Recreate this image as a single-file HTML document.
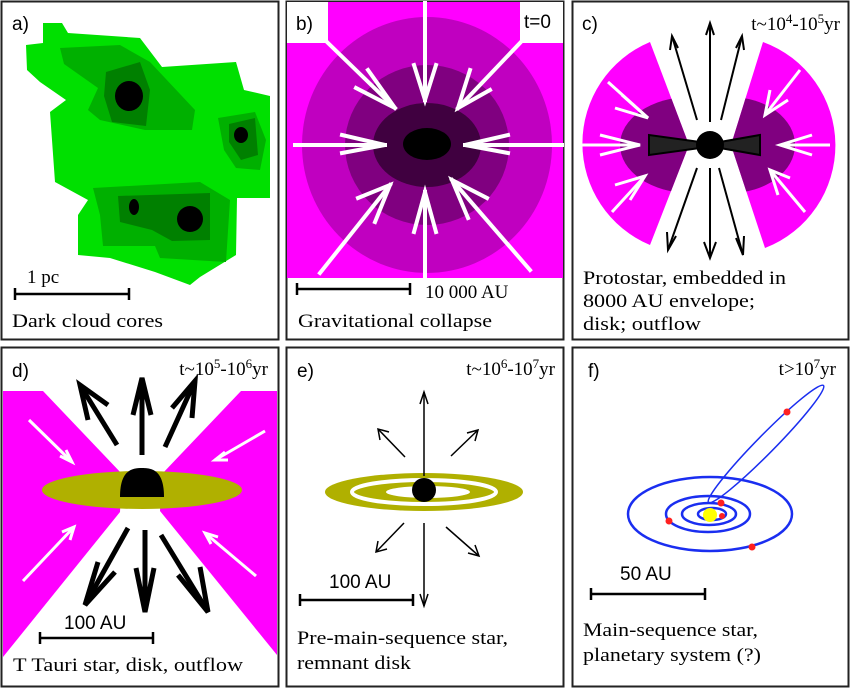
<!DOCTYPE html>
<html><head><meta charset="utf-8"><style>
html,body{margin:0;padding:0;background:#fff}
svg{display:block}
.lbl{font-family:"Liberation Sans",sans-serif;font-size:19px;fill:#000}
.cap{font-family:"Liberation Serif",serif;font-size:19px;fill:#000}
.tm{font-family:"Liberation Serif",serif;font-size:19px;fill:#000}
.sup{font-size:13px}
</style></head><body>
<svg width="850" height="688" viewBox="0 0 850 688" xmlns="http://www.w3.org/2000/svg">
<defs>
<clipPath id="cb"><rect x="287" y="2" width="276" height="276"/></clipPath>
<clipPath id="cl"><path d="M689 145 L650 42 A110 110 0 0 0 650 245 Z"/></clipPath>
<clipPath id="cr"><path d="M731 145 L763 42 A110 110 0 0 1 765 248 Z"/></clipPath>
</defs>
<!-- panel frames -->
<g fill="none" stroke="#222" stroke-width="2">
<rect x="1.5" y="1.5" width="277" height="338"/>
<rect x="286.5" y="1.5" width="277" height="338"/>
<rect x="572.5" y="1.5" width="276" height="338"/>
<rect x="1.5" y="347.5" width="277" height="339"/>
<rect x="286.5" y="347.5" width="277" height="339"/>
<rect x="572.5" y="347.5" width="276" height="339"/>
</g>

<!-- Panel a -->
<path fill="#00e000" d="M43 23 L62 23 L68 33 L140 38 L162 67 L236 62 L244 90 L270 96 L270 198 L237 198 L236 255 L200 277 L190 285 L155 272 L110 258 L78 255 L78 215 L88 200 L55 182 L50 112 L66 100 L40 82 L27 70 L26 45 L43 43 Z"/>
<path fill="#00b000" d="M60 48 L120 45 L150 62 L195 110 L192 130 L145 130 L100 120 L88 110 L98 88 L64 64 Z"/>
<path fill="#00b000" d="M218 118 L255 112 L266 140 L260 170 L236 168 L224 150 Z"/>
<path fill="#00b000" d="M93 188 L200 182 L230 200 L226 262 L160 258 L155 246 L103 246 L100 215 Z"/>
<path fill="#008000" d="M106 72 L140 62 L150 90 L146 126 L112 122 L104 96 Z"/>
<path fill="#008000" d="M229 124 L255 118 L258 155 L241 160 L229 142 Z"/>
<path fill="#008000" d="M118 196 L210 193 L210 240 L172 241 L152 230 L120 222 Z"/>
<ellipse cx="129" cy="96" rx="14" ry="15" fill="#000"/>
<ellipse cx="241" cy="135" rx="7" ry="8" fill="#000"/>
<ellipse cx="134" cy="207" rx="5" ry="8" fill="#000"/>
<ellipse cx="190" cy="219" rx="13" ry="13" fill="#000"/>
<text class="lbl" x="12" y="30">a)</text>
<text class="cap" x="27" y="283">1 pc</text>
<g stroke="#000" stroke-width="2.5"><line x1="15" y1="294" x2="129" y2="294"/><line x1="15" y1="288" x2="15" y2="300"/><line x1="129" y1="288" x2="129" y2="300"/></g>
<text class="cap" x="12" y="327" textLength="151" lengthAdjust="spacingAndGlyphs">Dark cloud cores</text>

<!-- Panel b -->
<g clip-path="url(#cb)">
<rect x="287" y="2" width="276" height="276" fill="#ff00ff"/>
<ellipse cx="427" cy="145" rx="125" ry="128" fill="#c000c0"/>
<ellipse cx="427" cy="145" rx="82" ry="80" fill="#800080"/>
<ellipse cx="427" cy="145" rx="54" ry="42" fill="#400040"/>
<ellipse cx="427" cy="144" rx="24" ry="16" fill="#000"/>
<rect x="287" y="2" width="41" height="41" fill="#fff"/>
<rect x="520" y="2" width="43" height="41" fill="#fff"/>
</g>
<g stroke="#fff" stroke-width="4" fill="none" stroke-linecap="square">
<line x1="328" y1="43" x2="395" y2="108"/><polyline points="368,70 395,108 356,88"/>
<line x1="295" y1="145" x2="385" y2="145"/><polyline points="342,135 385,145 342,153"/>
<line x1="320" y1="273" x2="390" y2="185"/><polyline points="358,198 390,185 375,222"/>
<line x1="425" y1="3" x2="425" y2="100"/><polyline points="414,65 425,100 436,65"/>
<line x1="425" y1="277" x2="425" y2="192"/><polyline points="414,232 425,192 436,232"/>
<line x1="562" y1="145" x2="465" y2="145"/><polyline points="508,135 465,145 508,153"/>
<line x1="520" y1="43" x2="458" y2="108"/><polyline points="470,70 458,108 490,90"/>
<line x1="530" y1="270" x2="452" y2="180"/><polyline points="468,218 452,180 487,198"/>
</g>
<text class="lbl" x="296" y="30">b)</text>
<text class="lbl" x="524" y="28">t=0</text>
<g stroke="#000" stroke-width="2.5"><line x1="297" y1="289" x2="410" y2="289"/><line x1="297" y1="283" x2="297" y2="295"/><line x1="410" y1="283" x2="410" y2="295"/></g>
<text class="cap" x="425" y="298">10 000 AU</text>
<text class="cap" x="298" y="327" textLength="194" lengthAdjust="spacingAndGlyphs">Gravitational collapse</text>

<!-- Panel c -->
<path d="M689 145 L650 42 A110 110 0 0 0 650 245 Z" fill="#ff00ff"/>
<path d="M731 145 L763 42 A110 110 0 0 1 765 248 Z" fill="#ff00ff"/>
<ellipse cx="690" cy="145" rx="70" ry="48" fill="#800080" clip-path="url(#cl)"/>
<ellipse cx="730" cy="145" rx="65" ry="48" fill="#800080" clip-path="url(#cr)"/>
<g stroke="#fff" stroke-width="3" fill="none">
<line x1="580" y1="145" x2="640" y2="145"/><polyline points="600,135 640,145 600,155"/>
<line x1="608" y1="82" x2="648" y2="118"/><polyline points="622,95 648,118 615,108"/>
<line x1="612" y1="212" x2="645" y2="176"/><polyline points="615,185 645,176 630,200"/>
<line x1="830" y1="145" x2="780" y2="145"/><polyline points="812,135 780,145 812,155"/>
<line x1="800" y1="70" x2="765" y2="115"/><polyline points="770,90 765,115 788,100"/>
<line x1="805" y1="212" x2="770" y2="170"/><polyline points="790,178 770,170 778,195"/>
</g>
<path d="M649 135 L649 155 L700 148 L700 142 Z" fill="#222" stroke="#000" stroke-width="2"/>
<path d="M760 135 L760 155 L720 148 L720 142 Z" fill="#222" stroke="#000" stroke-width="2"/>
<circle cx="710" cy="145" r="14" fill="#000"/>
<g stroke="#000" stroke-width="2" fill="none">
<line x1="710" y1="122" x2="710" y2="23"/><polyline points="706,35 710,23 714,35"/>
<line x1="697" y1="120" x2="672" y2="36"/><polyline points="670,50 672,36 678,48"/>
<line x1="721" y1="120" x2="742" y2="36"/><polyline points="736,48 742,36 744,50"/>
<line x1="710" y1="168" x2="710" y2="258"/><polyline points="704,242 710,258 716,242"/>
<line x1="697" y1="168" x2="668" y2="250"/><polyline points="667,232 668,250 676,236"/>
<line x1="719" y1="168" x2="743" y2="255"/><polyline points="736,238 743,255 744,236"/>
</g>
<text class="lbl" x="582" y="30">c)</text>
<text class="tm" x="840" y="30" text-anchor="end">t~10<tspan class="sup" dy="-7">4</tspan><tspan dy="7">-10</tspan><tspan class="sup" dy="-7">5</tspan><tspan dy="7">yr</tspan></text>
<text class="cap" x="583" y="284" textLength="203" lengthAdjust="spacingAndGlyphs">Protostar, embedded in</text>
<text class="cap" x="583" y="307" textLength="172" lengthAdjust="spacingAndGlyphs">8000 AU envelope;</text>
<text class="cap" x="583" y="330" textLength="118" lengthAdjust="spacingAndGlyphs">disk; outflow</text>

<!-- Panel d -->
<path d="M3 391 L43 391 L122 474 L120 512 L3 657 Z" fill="#ff00ff"/>
<path d="M241 391 L277 391 L277 655 L160 511 L162 474 Z" fill="#ff00ff"/>
<ellipse cx="142" cy="490" rx="100" ry="19" fill="#b0b000"/>
<path d="M120 497 C120 470 132 468 142 468 C152 468 164 470 164 497 Z" fill="#000"/>
<g stroke="#fff" stroke-width="3" fill="none">
<line x1="29" y1="420" x2="72" y2="462"/><polyline points="60,456 72,462 66,450"/>
<line x1="23" y1="581" x2="74" y2="527"/><polyline points="62,532 74,527 70,540"/>
<line x1="265" y1="431" x2="215" y2="460"/><polyline points="225,452 215,460 228,460"/>
<line x1="256" y1="576" x2="205" y2="533"/><polyline points="211,544 205,533 218,537"/>
</g>
<g stroke="#000" stroke-width="5" fill="none">
<line x1="142" y1="455" x2="142" y2="378"/><polyline points="133,415 142,378 151,415"/>
<line x1="117" y1="445" x2="80" y2="385"/><polyline points="88,420 80,385 108,405"/>
<line x1="165" y1="447" x2="195" y2="381"/><polyline points="172,408 195,381 192,418"/>
<line x1="145" y1="530" x2="145" y2="612"/><polyline points="136,568 145,612 154,568"/>
<line x1="128" y1="528" x2="85" y2="605"/><polyline points="98,562 85,605 115,572"/>
<line x1="161" y1="535" x2="208" y2="612"/><polyline points="178,575 208,612 200,567"/>
</g>
<text class="lbl" x="12" y="377">d)</text>
<text class="tm" x="268" y="375" text-anchor="end">t~10<tspan class="sup" dy="-7">5</tspan><tspan dy="7">-10</tspan><tspan class="sup" dy="-7">6</tspan><tspan dy="7">yr</tspan></text>
<text class="lbl" x="64" y="629">100 AU</text>
<g stroke="#000" stroke-width="2.5"><line x1="40" y1="638" x2="153" y2="638"/><line x1="40" y1="632" x2="40" y2="644"/><line x1="153" y1="632" x2="153" y2="644"/></g>
<text class="cap" x="13" y="671" textLength="230" lengthAdjust="spacingAndGlyphs">T Tauri star, disk, outflow</text>

<!-- Panel e -->
<ellipse cx="424" cy="492" rx="99" ry="19" fill="#b0b000"/>
<ellipse cx="424" cy="492" rx="72" ry="12" fill="none" stroke="#fff" stroke-width="4"/>
<ellipse cx="428" cy="492" rx="42" ry="6" fill="#fff"/>
<circle cx="424" cy="490" r="12" fill="#000"/>
<g stroke="#000" stroke-width="1.5" fill="none">
<line x1="424" y1="476" x2="424" y2="392"/><polyline points="420,404 424,392 428,404"/>
<line x1="405" y1="457" x2="378" y2="429"/><polyline points="380,440 378,429 389,432"/>
<line x1="451" y1="456" x2="478" y2="430"/><polyline points="467,433 478,430 475,441"/>
<line x1="424" y1="523" x2="424" y2="606"/><polyline points="420,594 424,606 428,594"/>
<line x1="404" y1="523" x2="376" y2="552"/><polyline points="378,541 376,552 387,549"/>
<line x1="446" y1="527" x2="479" y2="556"/><polyline points="468,553 479,556 475,545"/>
</g>
<text class="lbl" x="297" y="377">e)</text>
<text class="tm" x="555" y="375" text-anchor="end">t~10<tspan class="sup" dy="-7">6</tspan><tspan dy="7">-10</tspan><tspan class="sup" dy="-7">7</tspan><tspan dy="7">yr</tspan></text>
<text class="lbl" x="329" y="588">100 AU</text>
<g stroke="#000" stroke-width="2.5"><line x1="300" y1="600" x2="413" y2="600"/><line x1="300" y1="594" x2="300" y2="606"/><line x1="413" y1="594" x2="413" y2="606"/></g>
<text class="cap" x="297" y="644" textLength="211" lengthAdjust="spacingAndGlyphs">Pre-main-sequence star,</text>
<text class="cap" x="297" y="669" textLength="114" lengthAdjust="spacingAndGlyphs">remnant disk</text>

<!-- Panel f -->
<g fill="none" stroke="#1a2ef0" stroke-width="2.5">
<ellipse cx="710" cy="514" rx="82" ry="37"/>
<ellipse cx="708" cy="514" rx="42" ry="18"/>
<ellipse cx="709" cy="514" rx="27" ry="11"/>
<ellipse cx="712" cy="514" rx="14" ry="6"/>
<ellipse cx="766" cy="444" rx="82" ry="9" transform="rotate(-45.5 766 444)" stroke-width="1.5"/>
</g>
<circle cx="710" cy="515" r="7" fill="#ffff00"/>
<g fill="#ff2020">
<circle cx="787" cy="412" r="3.5"/><circle cx="721" cy="503" r="3.5"/><circle cx="669" cy="521" r="3.5"/><circle cx="752" cy="547" r="3.5"/><circle cx="722" cy="516" r="3"/>
</g>
<text class="lbl" x="588" y="377">f)</text>
<text class="tm" x="836" y="375" text-anchor="end">t&gt;10<tspan class="sup" dy="-7">7</tspan><tspan dy="7">yr</tspan></text>
<text class="lbl" x="620" y="580">50 AU</text>
<g stroke="#000" stroke-width="2.5"><line x1="591" y1="594" x2="705" y2="594"/><line x1="591" y1="588" x2="591" y2="600"/><line x1="705" y1="588" x2="705" y2="600"/></g>
<text class="cap" x="583" y="636" textLength="175" lengthAdjust="spacingAndGlyphs">Main-sequence star,</text>
<text class="cap" x="583" y="661" textLength="178" lengthAdjust="spacingAndGlyphs">planetary system (?)</text>
</svg>
</body></html>
